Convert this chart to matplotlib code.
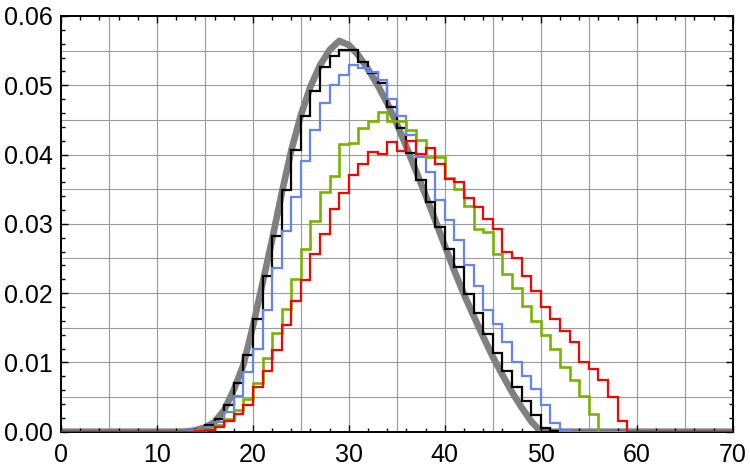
import numpy as np
import matplotlib
matplotlib.use("Agg")
import matplotlib.pyplot as plt

plt.rcParams['font.family'] = ['Liberation Sans', 'DejaVu Sans']

# ==== DATA (bin heights, 1-wide bins starting at FIRST_BIN) ====
BIN_EDGES = np.arange(0, 71, 1)
FIRST_BIN = 13

black_vals = [0.0001, 0.0003, 0.0010, 0.0018, 0.0038, 0.0070, 0.0111, 0.0162,
              0.0224, 0.0282, 0.0349, 0.0406, 0.0456, 0.0492, 0.0527, 0.0542,
              0.0551, 0.0551, 0.0534, 0.0518, 0.0503, 0.0469, 0.0438, 0.0402,
              0.0363, 0.0332, 0.0296, 0.0264, 0.0238, 0.0199, 0.0171, 0.0141,
              0.0114, 0.0088, 0.0065, 0.0044, 0.0024, 0.0005, 0.0001]

blue_vals = [0.0001, 0.0002, 0.0007, 0.0014, 0.0029, 0.0052, 0.0086, 0.0119,
             0.0175, 0.0236, 0.0290, 0.0338, 0.0390, 0.0435, 0.0474, 0.0500,
             0.0515, 0.0529, 0.0525, 0.0519, 0.0508, 0.0480, 0.0456, 0.0428,
             0.0397, 0.0375, 0.0334, 0.0305, 0.0276, 0.0240, 0.0210, 0.0176,
             0.0155, 0.0129, 0.0101, 0.0080, 0.0061, 0.0038, 0.0013, 0.0001]

green_vals = [0.0, 0.0001, 0.0004, 0.0010, 0.0018, 0.0031, 0.0047, 0.0071,
              0.0106, 0.0142, 0.0177, 0.0221, 0.0263, 0.0304, 0.0346, 0.0369,
              0.0415, 0.0416, 0.0438, 0.0448, 0.0462, 0.0449, 0.0448, 0.0435,
              0.0421, 0.0397, 0.0397, 0.0366, 0.0350, 0.0325, 0.0292, 0.0288,
              0.0257, 0.0228, 0.0207, 0.0181, 0.0160, 0.0139, 0.0119, 0.0094,
              0.0075, 0.0051, 0.0026]

red_vals = [0.0, 0.0001, 0.0002, 0.0007, 0.0016, 0.0026, 0.0038, 0.0064,
            0.0087, 0.0118, 0.0154, 0.0189, 0.0219, 0.0257, 0.0286, 0.0322,
            0.0345, 0.0371, 0.0387, 0.0404, 0.0401, 0.0418, 0.0405, 0.0419,
            0.0401, 0.0409, 0.0387, 0.0365, 0.0361, 0.0337, 0.0324, 0.0307,
            0.0293, 0.0260, 0.0250, 0.0225, 0.0203, 0.0180, 0.0162, 0.0145,
            0.0130, 0.0100, 0.0091, 0.0075, 0.0050, 0.0016]

# smooth reference curve
gray_x = [0, 12, 13, 14, 15, 16, 17, 18, 19, 20, 21, 22, 23, 24, 25, 26, 27,
          28, 29, 30, 31, 32, 33, 34, 35, 36, 37, 38, 39, 40, 41, 42, 43, 44,
          45, 46, 47, 48, 49, 50, 70]
gray_y = [0, 0, 0.00002, 0.0002, 0.0006, 0.0014, 0.0031, 0.0060, 0.0096,
          0.0152, 0.0214, 0.0277, 0.0344, 0.0406, 0.0457, 0.0498, 0.0529,
          0.0551, 0.0564, 0.0558, 0.0543, 0.0523, 0.0500, 0.0474, 0.0444,
          0.0411, 0.0376, 0.0341, 0.0305, 0.0268, 0.0232, 0.0198, 0.0167,
          0.0137, 0.0108, 0.0082, 0.0057, 0.0035, 0.0015, 0, 0]


def full_bins(vals):
    out = np.zeros(len(BIN_EDGES) - 1)
    out[FIRST_BIN:FIRST_BIN + len(vals)] = vals
    return out


# ==== PLOTTING ====
fig = plt.figure(figsize=(7.5, 4.73), dpi=100)
ax = fig.add_axes([0.0813, 0.0873, 0.8957, 0.879])

# grid every 5 in x and 0.005 in y
for gx in np.arange(5, 70, 5):
    ax.axvline(gx, color='#9a9a9a', lw=0.8, zorder=0)
for gy in np.arange(0.005, 0.06, 0.005):
    ax.axhline(gy, color='#9a9a9a', lw=0.8, zorder=0)

ax.plot(gray_x, gray_y, color='#808080', lw=4.8, solid_capstyle='butt', zorder=1)
ax.stairs(full_bins(black_vals), BIN_EDGES, color='black', lw=1.6, zorder=2)
ax.stairs(full_bins(blue_vals), BIN_EDGES, color='#6484f2', lw=1.6, zorder=3)
ax.stairs(full_bins(green_vals), BIN_EDGES, color='#77b300', lw=1.9, zorder=4)
ax.stairs(full_bins(red_vals), BIN_EDGES, color='#ff0000', lw=1.6, zorder=5)

ax.set_xlim(0, 70)
ax.set_ylim(0, 0.06)
ax.set_xticks(np.arange(0, 71, 10))
ax.set_xticks(np.arange(0, 71, 2), minor=True)
ax.set_yticks(np.arange(0, 0.061, 0.01))
ax.set_yticks(np.arange(0, 0.061, 0.002), minor=True)
ax.set_yticklabels([f'{v:.2f}' for v in np.arange(0, 0.061, 0.01)])

ax.tick_params(which='both', direction='in', top=True, right=True,
               labelsize=18, width=1.0, color='black')
ax.tick_params(which='major', length=5)
ax.tick_params(which='minor', length=3)
ax.tick_params(axis='x', which='major', pad=8)
ax.tick_params(axis='y', which='major', pad=6)
for s in ax.spines.values():
    s.set_linewidth(1.4)

fig.savefig('out.png', dpi=100)
